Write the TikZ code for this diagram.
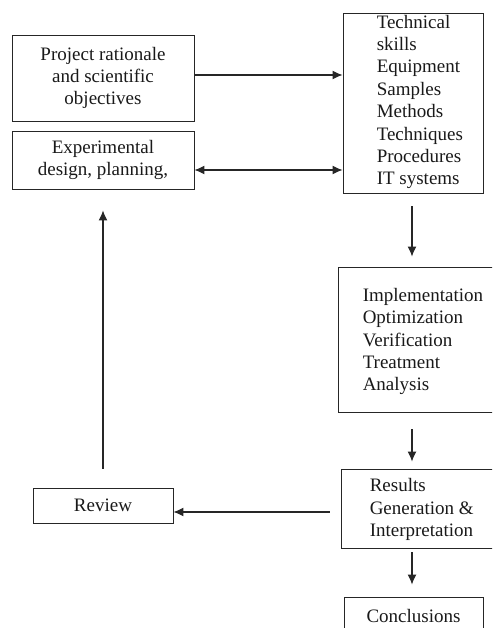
\documentclass[tikz,border=0pt]{standalone}
\usepackage{fontspec}
\setmainfont{Liberation Serif}
\usetikzlibrary{arrows.meta}
\tikzset{
  box/.style={draw=black!85, line width=0.9pt, inner sep=0pt},
  txt/.style={font=\fontsize{19}{22.4}\selectfont, inner sep=0pt, text=black!90},
  arr/.style={draw=black!85, line width=1.1pt, -{Latex[length=10pt,width=9pt]}},
  dblarr/.style={arr, {Latex[length=10pt,width=9pt]}-{Latex[length=10pt,width=9pt]}},
}
\begin{document}
\begin{tikzpicture}[x=1pt, y=-1pt]
        \useasboundingbox (0,0) rectangle (492,628);
        \clip (0,0) rectangle (492,628);

        % left column
        \node[box, txt, align=center, minimum width=182, minimum height=86] (proj) at (103,78)
            {Project rationale\\and scientific\\objectives};
        \node[box, txt, align=center, minimum width=182, minimum height=58] (exp) at (103,160)
            {Experimental\\design, planning,};
        \node[box, txt, minimum width=140, minimum height=35] (review) at (103,505.5) {Review};

        % right column
        \node[box, minimum width=140, minimum height=180] (tech) at (413,103) {};
        \node[txt, align=left, anchor=west] (techtxt) at ([xshift=34pt, yshift=1pt]tech.west)
            {Technical\\skills\\Equipment\\Samples\\Methods\\Techniques\\Procedures\\IT systems};
        \node[box, minimum width=160, minimum height=145] (impl) at (418,339.5) {};
        \node[txt, align=left, anchor=west] (impltxt) at ([xshift=25pt, yshift=-2pt]impl.west)
            {Implementation\\Optimization\\Verification\\Treatment\\Analysis};
        \node[box, minimum width=156, minimum height=79] (res) at (419,508.5) {};
        \node[txt, align=left, anchor=west] (restxt) at ([xshift=29pt, yshift=-1pt]res.west)
            {Results\\Generation \&\\Interpretation};
        \node[box, txt, minimum width=139, minimum height=38] (concl) at (413.5,616) {Conclusions};

        % connectors
        \draw[arr] ([yshift=3pt]proj.east) -- ([yshift=3pt]proj.east -| tech.west);
        \draw[dblarr] ([yshift=-10pt]exp.east) -- ([yshift=-10pt]exp.east -| tech.west);
        \draw[arr, shorten <=13pt, shorten >=10pt] ([xshift=-1pt]tech.south) -- ([xshift=-1pt]tech.south |- impl.north);
        \draw[arr, shorten <=17pt, shorten >=7pt] ([xshift=-1pt]tech.south |- impl.south) -- ([xshift=-1pt]tech.south |- res.north);
        \draw[arr, shorten <=4pt, shorten >=12pt] ([xshift=-1pt]tech.south |- res.south) -- ([xshift=-1pt]tech.south |- concl.north);
        \draw[arr, shorten <=11pt] ([yshift=-3.5pt]res.west) -- ([yshift=-3.5pt]res.west -| review.east);
        \draw[arr, shorten <=19pt, shorten >=21pt] (review.north) -- (exp.south);
\end{tikzpicture}
\end{document}
